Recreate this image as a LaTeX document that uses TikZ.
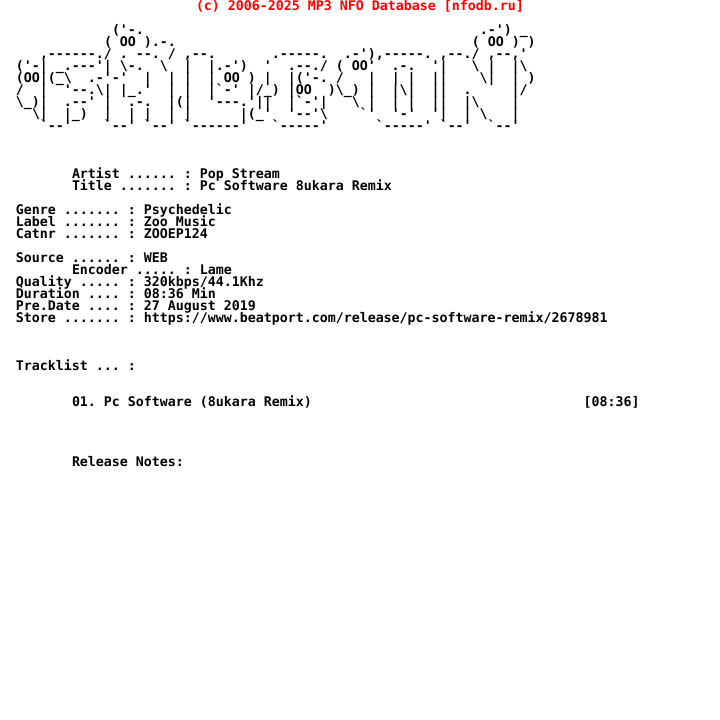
\documentclass[tikz,border=0pt]{standalone}
\usepackage{xcolor}
\usepackage{fontspec}
\setmonofont{DejaVu Sans Mono}
\newcommand{\bs}{\symbol{92}}
\frenchspacing
\tikzset{
  nfoline/.style={anchor=base west, inner sep=0pt, outer sep=0pt, font=\ttfamily\bfseries\fontsize{13.28}{12}\selectfont},
  nfohead/.style={nfoline, text=red}
}
\begin{document}
\begin{tikzpicture}[x=1pt, y=-1pt]
\useasboundingbox (0,0) rectangle (720,720);
\node[nfohead] (head) at (196,10) {(c) 2006-2025 MP3 NFO Database [nfodb.ru]};
% logo
\node[nfoline] (logoa) at (112,34) {('-.~~~~~~~~~~~~~~~~~~~~~~~~~~~~~~~~~~~~~~~~~~.-')~\_};
\node[nfoline] (logob) at (104,46) {(~OO~).-.~~~~~~~~~~~~~~~~~~~~~~~~~~~~~~~~~~~~~(~OO~)~)};
\node[nfoline] (logoc) at (40,58) {,------./~.~--.~/~,--.~~~~~~~.-----.~~.-'),-----.~,--./~,--,'};
\node[nfoline] (logod) at (16,70) {('-|~\_.---'|~\bs-.~~\bs~~|~~|.-')~~'~~.--./~(~OO'~~.-.~~'|~~~\bs~|~~|\bs};
\node[nfoline] (logoe) at (16,82) {(OO|(\_\bs~~.-'-'~~|~~|~|~~|~OO~)~|~~|('-.~/~~~|~~|~|~~||~~~~\bs|~~|~)};
\node[nfoline] (logof) at (16,94) {/~~|~~'--.\bs|~|\_.'~~|~|~~|`-'~|/\_)~|OO~~)\bs\_)~|~~|\bs|~~||~~.~~~~~|/};
\node[nfoline] (logog) at (16,106) {\bs\_)|~~.--'~|~~.-.~~|(|~~'---.'||~~|`-'|~~~\bs~|~~|~|~~||~~|\bs~~~~|};
\node[nfoline] (logoh) at (32,118) {\bs|~~|\_)~~|~~|~|~~|~|~~~~~~|(\_'~~'--'\bs~~~~`'~~'-'~~'|~~|~\bs~~~|};
\node[nfoline] (logoi) at (40,130) {`--'~~~~`--'~`--'~`------'~~~`-----'~~~~~~`-----'~`--'~~`--'};
% info
\node[nfoline] (artist) at (72,178) {Artist ...... : Pop Stream};
\node[nfoline] (title) at (72,190) {Title ....... : Pc Software 8ukara Remix};
\node[nfoline] (genre) at (16,214) {Genre ....... : Psychedelic};
\node[nfoline] (label) at (16,226) {Label ....... : Zoo Music};
\node[nfoline] (catnr) at (16,238) {Catnr ....... : ZOOEP124};
\node[nfoline] (source) at (16,262) {Source ...... : WEB};
\node[nfoline] (encoder) at (72,274) {Encoder ..... : Lame};
\node[nfoline] (quality) at (16,286) {Quality ..... : 320kbps/44.1Khz};
\node[nfoline] (duration) at (16,298) {Duration .... : 08:36 Min};
\node[nfoline] (predate) at (16,310) {Pre.Date .... : 27 August 2019};
\node[nfoline] (store) at (16,322) {Store ....... : https://www.beatport.com/release/pc-software-remix/2678981};
\node[nfoline] (tracklist) at (16,370) {Tracklist ... :};
\node[nfoline] (track) at (72,406) {01. Pc Software (8ukara Remix)~~~~~~~~~~~~~~~~~~~~~~~~~~~~~~~~~~[08:36]};
\node[nfoline] (notes) at (72,466) {Release Notes:};
\end{tikzpicture}
\end{document}
